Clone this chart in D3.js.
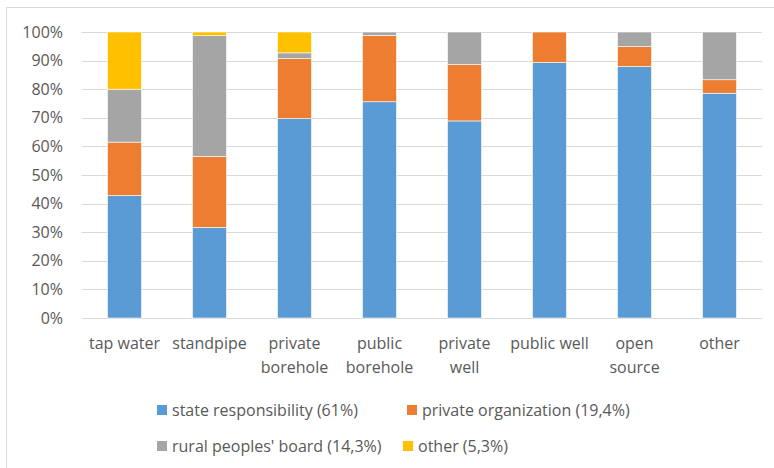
<!DOCTYPE html>
<html>
  <head>
    <script src="https://d3js.org/d3.v7.min.js"></script>
    <style>
      body { margin: 0; background: #fff; }
      text { font-family: "Open Sans", "Liberation Sans", sans-serif; fill: #595959; }
    </style>
  </head>
  <body>
    <script>
      const categories = [
        ['tap water'], ['standpipe'], ['private', 'borehole'], ['public', 'borehole'],
        ['private', 'well'], ['public well'], ['open', 'source'], ['other']
      ];
      const seriesNames = [
        'state responsibility (61%)',
        'private organization (19,4%)',
        "rural peoples' board (14,3%)",
        'other (5,3%)'
      ];
      const seriesColors = ['#5b9bd5', '#ed7d31', '#a5a5a5', '#ffc000'];

      // percent shares per category, one array per series
      const stateResp = [42.8, 31.7, 69.7, 75.6, 68.9, 89.3, 87.9, 78.6];
      const privateOrg = [18.7, 24.8, 21.0, 23.2, 19.7, 10.7, 7.0, 4.7];
      const ruralBoard = [18.5, 42.2, 2.0, 1.2, 11.4, 0, 5.1, 16.7];
      const otherShare = [20.0, 1.3, 7.3, 0, 0, 0, 0, 0];

      const yTicks = [0, 10, 20, 30, 40, 50, 60, 70, 80, 90, 100];

      const width = 774;
      const height = 468;
      const fontSize = 16;

      const svg = d3.select('body')
        .append('svg')
        .attr('width', width)
        .attr('height', height);

      // chart frame
      svg.append('rect')
        .attr('x', 6.5).attr('y', 7.5)
        .attr('width', 780).attr('height', 480)
        .attr('fill', 'none')
        .attr('stroke', '#d9d9d9');

      const x = d3.scaleBand()
        .domain(d3.range(categories.length))
        .range([82, 762])
        .paddingInner(0.6)
        .paddingOuter(0.3);

      const y = d3.scaleLinear().domain([0, 100]).range([318, 32]);

      // gridlines
      svg.append('g')
        .selectAll('line')
        .data(yTicks)
        .join('line')
        .attr('x1', 82).attr('x2', 762)
        .attr('y1', d => Math.round(y(d)) + 0.5)
        .attr('y2', d => Math.round(y(d)) + 0.5)
        .attr('stroke', '#d9d9d9')
        .attr('stroke-width', 1);

      // y axis labels
      svg.append('g')
        .selectAll('text')
        .data(yTicks)
        .join('text')
        .attr('x', 63)
        .attr('y', d => y(d))
        .attr('dy', '0.35em')
        .attr('text-anchor', 'end')
        .attr('font-size', fontSize)
        .text(d => d + '%');

      const rows = categories.map((c, i) => ({
        i, s0: stateResp[i], s1: privateOrg[i], s2: ruralBoard[i], s3: otherShare[i]
      }));
      const stacked = d3.stack().keys(['s0', 's1', 's2', 's3'])(rows);

      svg.append('g')
        .selectAll('g')
        .data(stacked)
        .join('g')
        .attr('fill', (d, k) => seriesColors[k])
        .selectAll('rect')
        .data(d => d.filter(p => p[1] - p[0] > 0))
        .join('rect')
        .attr('x', d => x(d.data.i))
        .attr('width', x.bandwidth())
        .attr('y', d => y(d[1]))
        .attr('height', d => y(d[0]) - y(d[1]))
        .attr('stroke', '#ffffff')
        .attr('stroke-width', 0.6);

      // x labels
      const xl = svg.append('g')
        .selectAll('text')
        .data(categories)
        .join('text')
        .attr('x', (d, i) => x(i) + x.bandwidth() / 2)
        .attr('y', 349)
        .attr('text-anchor', 'middle')
        .attr('font-size', fontSize);
      xl.selectAll('tspan')
        .data(d => d)
        .join('tspan')
        .attr('x', function () { return this.parentNode.getAttribute('x'); })
        .attr('dy', (d, j) => j === 0 ? 0 : 24)
        .text(d => d);

      // legend
      const legendPos = [[157, 410], [407, 410], [157, 446], [403, 446]];
      const lg = svg.append('g')
        .selectAll('g')
        .data(seriesNames)
        .join('g')
        .attr('transform', (d, i) => `translate(${legendPos[i][0]},${legendPos[i][1]})`);
      lg.append('rect')
        .attr('x', 0).attr('y', -5)
        .attr('width', 10).attr('height', 10)
        .attr('fill', (d, i) => seriesColors[i]);
      lg.append('text')
        .attr('x', 15)
        .attr('dy', '0.35em')
        .attr('font-size', fontSize)
        .text(d => d);
    </script>
  </body>
</html>
